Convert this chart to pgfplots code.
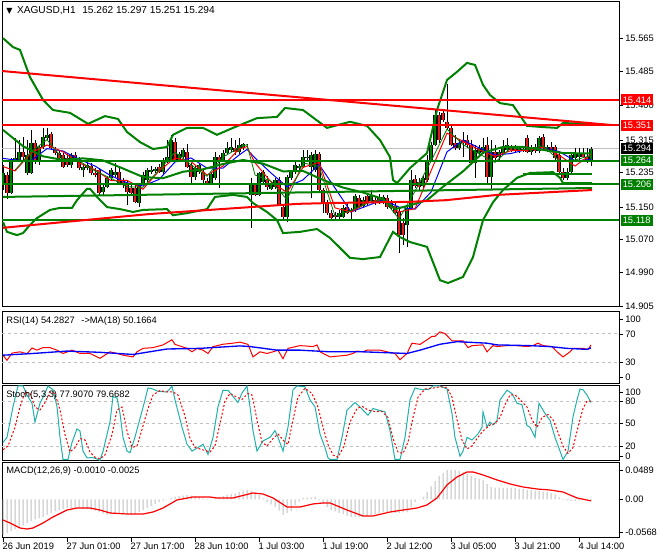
\documentclass[border=0pt]{standalone}
\usepackage{fontspec}
\setmainfont{Liberation Sans}
\newfontfamily\symfont{DejaVu Sans}
\usepackage{pgfplots}
\pgfplotsset{compat=1.18}
\usepackage{pgfplotstable}

\definecolor{mtgreen}{RGB}{0,128,0}
\definecolor{mtred}{RGB}{255,0,0}
\definecolor{bearred}{RGB}{225,30,30}
\definecolor{lvl}{RGB}{192,192,192}
\definecolor{hist}{RGB}{190,190,190}
\definecolor{stochc}{RGB}{32,178,170}
\newcommand\lab{\fontsize{7}{8}\selectfont}
\newcommand\hdr{\fontsize{7.6}{9}\selectfont}

% x = horizontal position of the hourly bar (4 units per bar)
\pgfplotstableread{
x o h l c
3 15.205 15.254 15.192 15.234
7 15.229 15.237 15.170 15.185
11 15.185 15.271 15.182 15.266
15 15.266 15.320 15.261 15.271
19 15.266 15.315 15.261 15.286
23 15.286 15.323 15.266 15.273
27 15.234 15.315 15.229 15.278
31 15.234 15.340 15.232 15.308
35 15.308 15.315 15.256 15.261
39 15.261 15.303 15.254 15.298
43 15.298 15.345 15.293 15.323
47 15.320 15.345 15.315 15.328
51 15.330 15.335 15.291 15.296
55 15.291 15.298 15.278 15.283
59 15.283 15.291 15.266 15.271
63 15.278 15.283 15.246 15.249
67 15.271 15.283 15.249 15.254
71 15.254 15.283 15.246 15.278
75 15.278 15.286 15.261 15.266
79 15.266 15.273 15.241 15.246
83 15.241 15.259 15.224 15.249
87 15.246 15.266 15.241 15.254
91 15.251 15.259 15.229 15.234
95 15.234 15.246 15.224 15.229
99 15.241 15.246 15.180 15.185
103 15.187 15.205 15.180 15.200
107 15.200 15.227 15.197 15.222
111 15.222 15.246 15.217 15.241
115 15.229 15.259 15.224 15.237
119 15.237 15.246 15.205 15.210
123 15.214 15.222 15.197 15.205
127 15.210 15.217 15.155 15.187
131 15.197 15.205 15.177 15.185
135 15.197 15.205 15.160 15.163
139 15.160 15.210 15.150 15.205
143 15.210 15.237 15.205 15.229
147 15.217 15.246 15.212 15.241
151 15.237 15.251 15.232 15.241
155 15.239 15.249 15.234 15.244
159 15.249 15.256 15.234 15.237
163 15.237 15.271 15.232 15.266
167 15.261 15.315 15.259 15.273
171 15.266 15.328 15.261 15.315
175 15.310 15.320 15.261 15.266
179 15.266 15.286 15.261 15.281
183 15.273 15.296 15.268 15.291
187 15.286 15.306 15.246 15.249
191 15.254 15.259 15.205 15.224
195 15.224 15.254 15.217 15.246
199 15.237 15.259 15.232 15.254
203 15.237 15.246 15.207 15.217
207 15.214 15.222 15.207 15.207
211 15.207 15.237 15.205 15.232
215 15.222 15.286 15.217 15.273
219 15.273 15.278 15.197 15.261
223 15.266 15.291 15.261 15.283
227 15.283 15.310 15.278 15.296
231 15.291 15.320 15.286 15.298
235 15.296 15.315 15.278 15.286
239 15.286 15.320 15.281 15.303
243 15.296 15.308 15.291 15.306
247 15.303 15.306 15.298 15.303
251 15.180 15.222 15.099 15.205
255 15.205 15.210 15.177 15.180
259 15.180 15.237 15.177 15.234
263 15.212 15.241 15.207 15.237
267 15.217 15.227 15.192 15.200
271 15.195 15.212 15.192 15.207
275 15.200 15.222 15.195 15.217
279 15.217 15.224 15.155 15.155
283 15.150 15.155 15.118 15.126
287 15.126 15.229 15.113 15.224
291 15.222 15.241 15.217 15.237
295 15.237 15.261 15.232 15.254
299 15.246 15.256 15.241 15.251
303 15.249 15.291 15.246 15.273
307 15.271 15.291 15.266 15.273
311 15.249 15.286 15.172 15.278
315 15.241 15.291 15.237 15.281
319 15.281 15.286 15.187 15.192
323 15.192 15.197 15.135 15.160
327 15.158 15.168 15.131 15.135
331 15.135 15.143 15.118 15.123
335 15.131 15.138 15.121 15.126
339 15.126 15.143 15.121 15.135
343 15.126 15.155 15.123 15.148
347 15.150 15.158 15.133 15.135
351 15.138 15.148 15.118 15.143
355 15.143 15.182 15.138 15.177
359 15.172 15.180 15.148 15.150
363 15.153 15.175 15.148 15.168
367 15.177 15.185 15.155 15.160
371 15.165 15.192 15.160 15.177
375 15.168 15.175 15.155 15.160
379 15.163 15.182 15.158 15.175
383 15.163 15.180 15.158 15.175
387 15.172 15.180 15.145 15.150
391 15.160 15.168 15.143 15.148
395 15.153 15.160 15.131 15.135
399 15.138 15.148 15.037 15.082
403 15.111 15.123 15.057 15.082
407 15.106 15.155 15.052 15.148
411 15.148 15.241 15.143 15.217
415 15.219 15.229 15.197 15.202
419 15.212 15.222 15.192 15.200
423 15.202 15.229 15.197 15.222
427 15.217 15.278 15.212 15.266
431 15.266 15.310 15.261 15.303
435 15.303 15.389 15.301 15.377
439 15.377 15.384 15.308 15.315
443 15.382 15.389 15.360 15.365
447 15.360 15.453 15.340 15.345
451 15.345 15.352 15.301 15.303
455 15.308 15.328 15.291 15.296
459 15.296 15.315 15.291 15.308
463 15.315 15.335 15.273 15.308
467 15.315 15.328 15.296 15.303
471 15.303 15.315 15.254 15.259
475 15.259 15.303 15.222 15.291
479 15.283 15.303 15.278 15.296
483 15.286 15.320 15.281 15.298
487 15.303 15.323 15.205 15.224
491 15.224 15.315 15.192 15.286
495 15.286 15.303 15.266 15.271
499 15.273 15.291 15.266 15.286
503 15.283 15.315 15.278 15.296
507 15.291 15.320 15.286 15.303
511 15.296 15.303 15.286 15.291
515 15.296 15.303 15.286 15.288
519 15.291 15.301 15.283 15.296
523 15.293 15.301 15.286 15.291
527 15.320 15.328 15.283 15.286
531 15.286 15.303 15.278 15.296
535 15.298 15.306 15.283 15.288
539 15.288 15.325 15.283 15.320
543 15.323 15.330 15.291 15.296
547 15.291 15.303 15.286 15.298
551 15.298 15.310 15.286 15.288
555 15.298 15.303 15.266 15.271
559 15.278 15.286 15.229 15.237
563 15.237 15.246 15.217 15.222
567 15.222 15.246 15.217 15.237
571 15.237 15.286 15.232 15.278
575 15.271 15.296 15.266 15.283
579 15.273 15.296 15.266 15.283
583 15.283 15.296 15.271 15.273
587 15.273 15.296 15.259 15.266
591 15.262 15.297 15.251 15.294
}\candles

\pgfplotstableread{
x v
3 -0.0607
7 -0.0573
11 -0.0539
15 -0.0505
19 -0.0471
23 -0.0437
27 -0.0403
31 -0.0368
35 -0.0341
39 -0.0320
43 -0.0300
47 -0.0266
51 -0.0232
55 -0.0205
59 -0.0186
63 -0.0166
67 -0.0147
71 -0.0147
75 -0.0147
79 -0.0147
83 -0.0157
87 -0.0167
91 -0.0177
95 -0.0193
99 -0.0218
103 -0.0242
107 -0.0266
111 -0.0255
115 -0.0243
119 -0.0232
123 -0.0242
127 -0.0252
131 -0.0262
135 -0.0249
139 -0.0215
143 -0.0181
147 -0.0147
151 -0.0113
155 -0.0078
159 -0.0044
163 -0.0020
167 0.0005
171 0.0029
175 0.0046
179 0.0056
183 0.0066
187 0.0075
191 0.0064
195 0.0052
199 0.0041
203 0.0016
207 -0.0010
211 0.0007
215 0.0024
219 0.0041
223 0.0058
227 0.0075
231 0.0089
235 0.0102
239 0.0129
243 0.0150
247 0.0160
251 0.0140
255 0.0119
259 0.0078
263 0.0017
267 -0.0044
271 -0.0085
275 -0.0126
279 -0.0190
283 -0.0266
287 -0.0232
291 -0.0198
295 -0.0103
299 -0.0040
303 0.0024
307 0.0030
311 0.0035
315 0.0041
319 -0.0016
323 -0.0073
327 -0.0130
331 -0.0180
335 -0.0204
339 -0.0228
343 -0.0252
347 -0.0276
351 -0.0300
355 -0.0300
359 -0.0300
363 -0.0290
367 -0.0280
371 -0.0270
375 -0.0256
379 -0.0236
383 -0.0215
387 -0.0220
391 -0.0225
395 -0.0230
399 -0.0228
403 -0.0222
407 -0.0215
411 -0.0130
415 -0.0044
419 0.0005
423 0.0041
427 0.0129
431 0.0221
435 0.0310
439 0.0399
443 0.0450
447 0.0501
451 0.0501
455 0.0501
459 0.0490
463 0.0467
467 0.0433
471 0.0399
475 0.0365
479 0.0348
483 0.0331
487 0.0262
491 0.0208
495 0.0201
499 0.0195
503 0.0194
507 0.0194
511 0.0194
515 0.0190
519 0.0182
523 0.0174
527 0.0166
531 0.0158
535 0.0150
539 0.0142
543 0.0134
547 0.0126
551 0.0106
555 0.0085
559 0.0040
563 -0.0010
567 -0.0017
571 -0.0024
575 -0.0024
579 -0.0017
583 -0.0010
587 -0.0010
591 -0.0010
}\macdhist

\pgfplotsset{
  mt/.style={
    scale only axis, width=462.75pt, xmin=2, xmax=619,
    axis line style={line width=0.75pt},
    xtick=\empty, ytick pos=right, yticklabel pos=right,
    tick align=outside, major tick length=3pt,
    tick style={black, line width=0.6pt},
    yticklabel style={font=\lab, anchor=west, inner sep=0pt, xshift=1.5pt},
    scaled y ticks=false,
    clip mode=individual,
  },
  lvlline/.style={lvl, line width=0.6pt, dash pattern=on 2.25pt off 2.25pt},
  wick/.style={draw=none, mark=none, forget plot,
    error bars/y dir=plus, error bars/y explicit, error bars/error mark=none,
    error bars/error bar style={draw=black, line width=0.75pt, solid}},
  body/.style 2 args={draw=none, mark=none, forget plot,
    error bars/y dir=plus, error bars/y explicit, error bars/error mark=none,
    error bars/error bar style={draw=#1, line width=#2, solid}},
}
\tikzset{
  pbox/.style={anchor=west, font=\lab, text=white, inner xsep=1.5pt,
    inner ysep=0pt, minimum height=8.25pt, fill=#1},
}

\begin{document}
\begin{tikzpicture}
\path[use as bounding box] (0,0) rectangle (495pt,420pt);

% ---------------- price panel ----------------
\begin{axis}[mt, at={(1.5pt,189.75pt)}, anchor=south west, height=228.75pt,
  ymin=14.904, ymax=15.655,
  ytick={14.905,14.990,15.070,15.150,15.235,15.315,15.400,15.485,15.565},
  yticklabels={14.905,14.990,15.070,15.150,15.235,15.315,15.400,15.485,15.565}]

\addplot[lvl, line width=0.6pt] coordinates {(2,15.294)(619,15.294)};

% candles
\addplot[wick] table[x=x, y=l, y error expr=\thisrow{h}-\thisrow{l}] {\candles};
\addplot[body={black}{2.4pt}, restrict expr to domain={\thisrow{c}-\thisrow{o}}{0:1}]
  table[x=x, y=o, y error expr=\thisrow{c}-\thisrow{o}] {\candles};
\addplot[body={mtgreen}{1.0pt}, restrict expr to domain={\thisrow{c}-\thisrow{o}}{0:1}]
  table[x=x, y=o, y error expr=\thisrow{c}-\thisrow{o}] {\candles};
\addplot[body={black}{2.4pt}, restrict expr to domain={\thisrow{c}-\thisrow{o}}{-1:0}]
  table[x=x, y=c, y error expr=\thisrow{o}-\thisrow{c}] {\candles};
\addplot[body={bearred}{1.0pt}, restrict expr to domain={\thisrow{c}-\thisrow{o}}{-1:0}]
  table[x=x, y=c, y error expr=\thisrow{o}-\thisrow{c}] {\candles};

% moving averages
\addplot[blue, line width=0.75pt] coordinates {(3,15.270)(15,15.266)(31,15.264)(47,15.294)(63,15.288)(79,15.268)(95,15.251)(111,15.227)(127,15.210)(143,15.202)(159,15.218)(175,15.261)(191,15.271)(207,15.246)(223,15.246)(239,15.278)(247,15.292)(255,15.271)(271,15.234)(287,15.200)(303,15.217)(319,15.255)(335,15.197)(351,15.138)(367,15.153)(383,15.168)(399,15.150)(415,15.145)(431,15.187)(447,15.286)(463,15.315)(479,15.296)(495,15.278)(511,15.282)(527,15.292)(543,15.296)(559,15.287)(575,15.264)(591,15.267)};
\addplot[mtred, line width=0.75pt] coordinates {(3,15.250)(15,15.239)(31,15.283)(47,15.303)(63,15.286)(79,15.259)(95,15.242)(111,15.215)(127,15.216)(143,15.194)(159,15.239)(175,15.271)(191,15.262)(207,15.229)(223,15.251)(239,15.293)(247,15.299)(255,15.259)(271,15.212)(287,15.186)(303,15.248)(319,15.260)(335,15.148)(351,15.138)(367,15.160)(383,15.170)(399,15.138)(415,15.146)(431,15.239)(447,15.332)(463,15.312)(479,15.291)(495,15.275)(511,15.289)(527,15.290)(543,15.297)(559,15.278)(575,15.251)(591,15.280)};
\addplot[mtgreen, line width=0.6pt] coordinates {(15,15.241)(31,15.286)(47,15.316)(63,15.268)(79,15.264)(95,15.239)(111,15.221)(127,15.200)(143,15.199)(159,15.241)(175,15.285)(191,15.254)(207,15.226)(223,15.273)(239,15.296)(247,15.304)(255,15.229)(271,15.214)(287,15.168)(303,15.259)(319,15.250)(335,15.128)(351,15.142)(367,15.159)(383,15.170)(399,15.121)(415,15.189)(431,15.263)(447,15.342)(463,15.304)(479,15.281)(495,15.260)(511,15.296)(527,15.291)(543,15.301)(559,15.265)(575,15.266)(591,15.277)};

% Bollinger bands
\addplot[mtgreen, line width=1.5pt] coordinates {(3,15.566)(13,15.544)(20,15.537)(30,15.470)(43,15.414)(53,15.389)(70,15.382)(88,15.355)(105,15.374)(118,15.367)(127,15.335)(140,15.310)(153,15.293)(167,15.298)(173,15.328)(187,15.345)(203,15.345)(217,15.328)(233,15.345)(257,15.369)(277,15.372)(285,15.394)(303,15.389)(327,15.345)(350,15.360)(367,15.350)(380,15.315)(390,15.273)(393,15.217)(397,15.209)(410,15.246)(427,15.283)(437,15.389)(447,15.463)(457,15.483)(467,15.505)(475,15.500)(483,15.451)(490,15.426)(500,15.406)(513,15.401)(527,15.350)(543,15.347)(557,15.345)(563,15.357)(583,15.355)(592,15.355)};
\addplot[mtgreen, line width=1.5pt] coordinates {(3,15.113)(7,15.089)(17,15.081)(23,15.086)(30,15.106)(37,15.123)(50,15.143)(60,15.148)(72,15.148)(77,15.167)(87,15.195)(90,15.195)(97,15.175)(107,15.150)(120,15.145)(133,15.138)(143,15.143)(167,15.145)(173,15.130)(187,15.135)(207,15.145)(215,15.175)(233,15.180)(247,15.175)(253,15.160)(267,15.138)(277,15.118)(283,15.086)(300,15.089)(317,15.096)(330,15.074)(350,15.025)(363,15.022)(380,15.027)(393,15.089)(400,15.076)(410,15.064)(427,15.052)(440,14.970)(448,14.963)(463,14.978)(473,15.027)(483,15.118)(493,15.162)(503,15.192)(517,15.222)(530,15.234)(553,15.236)(560,15.222)(563,15.209)(592,15.209)};
\addplot[mtgreen, line width=1.5pt] coordinates {(3,15.340)(23,15.300)(43,15.275)(63,15.266)(83,15.270)(103,15.265)(123,15.245)(143,15.224)(163,15.221)(183,15.237)(203,15.243)(223,15.256)(243,15.266)(263,15.257)(283,15.238)(303,15.239)(323,15.217)(343,15.198)(363,15.186)(383,15.170)(395,15.145)(411,15.155)(427,15.167)(443,15.200)(463,15.238)(483,15.284)(503,15.298)(523,15.298)(543,15.291)(563,15.283)(591,15.282)};

% levels and trend lines
\addplot[mtgreen, line width=1.5pt] coordinates {(2,15.264)(619,15.264)};
\addplot[mtgreen, line width=1.5pt] coordinates {(2,15.206)(619,15.206)};
\addplot[mtgreen, line width=1.5pt] coordinates {(2,15.118)(619,15.118)};
\addplot[mtgreen, line width=1.5pt] coordinates {(3,15.175)(592,15.197)};
\addplot[mtgreen, line width=1.5pt] coordinates {(523,15.231)(592,15.231)};
\addplot[mtred, line width=1.5pt] coordinates {(2,15.414)(619,15.414)};
\addplot[mtred, line width=1.5pt] coordinates {(2,15.351)(619,15.351)};
\addplot[mtred, line width=1.5pt] coordinates {(2,15.485)(612,15.352)};
\addplot[mtred, line width=1.5pt] coordinates {(3,15.099)(63,15.113)(150,15.133)(298,15.158)(330,15.160)(410,15.163)(446,15.167)(497,15.180)(592,15.192)};

\node[anchor=base west, inner sep=0pt, font=\hdr] at (axis cs:6,15.626)
  {{\symfont\fontsize{6}{6}\selectfont ▼}\hspace{3.5pt}XAGUSD,H1\hspace{5pt}15.262 15.297 15.251 15.294};
\node[pbox=mtred] at (axis cs:620.5,15.414) {15.414};
\node[pbox=mtred] at (axis cs:620.5,15.351) {15.351};
\node[pbox=black] at (axis cs:620.5,15.294) {15.294};
\node[pbox=mtgreen] at (axis cs:620.5,15.264) {15.264};
\node[pbox=mtgreen] at (axis cs:620.5,15.206) {15.206};
\node[pbox=mtgreen] at (axis cs:620.5,15.118) {15.118};
\end{axis}

% ---------------- RSI ----------------
\begin{axis}[mt, at={(1.5pt,132pt)}, anchor=south west, height=54pt,
  ymin=0, ymax=100, ytick={9.7,30.6,69.4,90.3}, yticklabels={0,30,70,100}]
\addplot[lvlline] coordinates {(2,30)(619,30)};
\addplot[lvlline] coordinates {(2,70)(619,70)};
\addplot[mtred, line width=0.75pt] coordinates {(3,40)(7,32.9)(12,42.9)(20,44.7)(27,42)(32,50)(37,47)(43,50.5)(50,50.5)(57,47)(63,42.4)(72,47)(80,42.4)(90,42.4)(100,35.7)(110,44.7)(117,42.4)(123,40)(133,37.6)(137,44.7)(143,49.5)(153,50.5)(163,54.3)(172,61.4)(175,55)(187,49.5)(192,44.7)(197,49.5)(203,47)(208,42.4)(213,51.9)(223,55.2)(233,56.7)(240,58.1)(248,55)(253,37.6)(260,44.7)(267,42.4)(273,44.7)(278,47)(283,35.2)(288,49.5)(300,53.3)(313,52)(317,54.3)(320,44.7)(330,37.6)(347,40)(353,42.4)(357,45.7)(363,44.7)(367,47)(380,47)(387,44.7)(395,42.4)(400,33.8)(407,42.4)(412,56.7)(420,55)(427,61.4)(432,66.2)(435,66.2)(440,72.4)(445,70)(452,60)(463,60)(468,50.5)(472,53.3)(483,54.3)(487,44.7)(493,53.3)(497,52)(507,53.3)(517,53.3)(527,52)(533,53.3)(538,56.7)(543,53.3)(552,52)(557,44.7)(563,37.6)(570,44.7)(573,49.5)(583,49.5)(588,48)(591,54.3)};
\addplot[blue, line width=1pt] coordinates {(3,40)(33,42.4)(67,45.7)(100,44)(133,41)(167,48.6)(200,49.5)(240,52.9)(250,52)(277,47)(300,47)(330,44.7)(363,44.7)(407,42.4)(420,47)(440,55.2)(457,58.8)(487,56.7)(497,54.3)(530,53.3)(550,51.9)(567,49.5)(587,48.1)(591,50.2)};
\node[anchor=base west, inner sep=0pt, font=\lab] at (axis cs:6,84.7) {RSI(14) 54.2827\hspace{5pt}->MA(18) 50.1664};
\end{axis}

% ---------------- Stochastic ----------------
\begin{axis}[mt, at={(1.5pt,74.25pt)}, anchor=south west, height=56.25pt,
  ymin=0, ymax=100, ytick={6.7,20,50,80,92}, yticklabels={0,20,50,80,100}]
\addplot[lvlline] coordinates {(2,20)(619,20)};
\addplot[lvlline] coordinates {(2,50)(619,50)};
\addplot[lvlline] coordinates {(2,80)(619,80)};
\addplot[stochc, line width=0.75pt] coordinates {(3,24.7)(7,31.5)(13,72.4)(18,100)(23,100)(27,88)(32,77)(35,52)(40,77)(45,90.6)(48,100)(53,95)(57,72.4)(60,31.5)(63,2)(68,2)(72,24.7)(77,42.8)(80,40)(83,13.2)(87,4.2)(93,4.5)(100,1)(103,13)(110,52)(113,86)(117,84)(120,63.3)(123,31.5)(127,13.2)(130,11)(135,32)(140,56.5)(145,81.5)(148,97.4)(153,96)(158,92.9)(167,92)(172,99.7)(175,81.5)(182,45.2)(187,22.4)(192,13.2)(198,17.9)(203,22.4)(208,8.7)(213,31.5)(218,72.4)(223,94.3)(228,94.3)(233,86)(238,78)(242,90.6)(247,100)(250,72.4)(253,40.5)(257,13.2)(263,26.9)(270,31.5)(275,40.5)(278,31.5)(283,13.2)(288,45.2)(293,95)(297,100)(305,99)(310,81.5)(315,72.4)(320,36)(325,17.9)(328,4.2)(330,2)(337,2)(342,31.5)(347,67.8)(355,78)(360,72)(368,61)(373,70)(378,68)(385,65.6)(390,40.5)(395,2)(400,2)(405,31.5)(410,81.5)(415,97.4)(422,95)(428,95)(433,100)(440,100)(447,96)(452,63.3)(455,31.5)(460,6.4)(463,13)(467,31.5)(472,28)(478,36)(482,45)(483,65.6)(487,45)(490,52)(493,48)(497,54)(500,81.5)(507,94.3)(512,90)(517,77)(522,75)(527,47.3)(530,45)(535,31.5)(539,77)(545,63.3)(550,54.2)(555,31.5)(560,13.2)(563,2)(568,13)(573,58.8)(577,81.5)(580,96)(583,95)(587,88)(591,77.9)};
\addplot[mtred, line width=0.75pt, dash pattern=on 1.5pt off 1.5pt] coordinates {(3,15)(8,20)(15,45)(20,72)(25,92)(30,90)(35,72)(40,68)(45,78)(50,92)(55,90)(60,68)(65,35)(70,12)(75,18)(80,30)(85,28)(90,12)(95,5)(100,3)(105,8)(112,35)(117,68)(122,72)(127,40)(132,18)(137,20)(142,42)(148,70)(153,88)(160,94)(167,92)(173,92)(178,88)(185,60)(190,30)(195,18)(200,16)(205,14)(210,12)(215,20)(220,50)(225,80)(230,90)(237,85)(242,82)(248,90)(252,88)(257,55)(262,25)(267,20)(273,30)(278,36)(283,28)(288,22)(293,55)(298,85)(305,97)(312,90)(318,72)(323,45)(328,22)(333,8)(338,5)(344,20)(350,52)(357,70)(362,73)(368,68)(375,66)(382,66)(388,58)(393,30)(398,12)(403,10)(408,25)(413,58)(418,85)(425,96)(432,97)(440,99)(447,98)(452,85)(457,55)(462,28)(467,16)(472,20)(477,30)(483,40)(490,48)(495,50)(500,58)(505,75)(510,88)(515,88)(520,82)(527,72)(532,55)(537,45)(542,58)(548,62)(553,55)(558,38)(563,20)(568,10)(573,18)(578,45)(583,70)(587,80)(591,79.7)};
\node[anchor=base west, inner sep=0pt, font=\lab] at (axis cs:6,84) {Stoch(5,3,3) 77.9070 79.6682};
\end{axis}

% ---------------- MACD ----------------
\begin{axis}[mt, at={(1.5pt,16.5pt)}, anchor=south west, height=56.25pt,
  ymin=-0.0658, ymax=0.0620, ytick={-0.0568,0,0.0489}, yticklabels={-0.0568,0.00,0.0489},
  xtick={3,67,131,195,259,323,387,451,515,579}, xtick pos=bottom,
  xticklabels={26 Jun 2019,27 Jun 01:00,27 Jun 17:00,28 Jun 10:00,1 Jul 03:00,1 Jul 19:00,2 Jul 12:00,3 Jul 05:00,3 Jul 21:00,4 Jul 14:00},
  xticklabel style={font=\lab, anchor=north west, inner sep=0pt, xshift=-0.5pt, yshift=-0.5pt}]
\addplot[ybar, bar width=0.75pt, fill=hist, draw=none] table[x=x, y=v] {\macdhist};
\addplot[mtred, line width=0.9pt] coordinates {(3,-0.0351)(10,-0.0402)(20,-0.0488)(27,-0.0505)(33,-0.0488)(43,-0.0402)(53,-0.0300)(67,-0.0181)(77,-0.0147)(90,-0.0147)(100,-0.0181)(110,-0.0232)(127,-0.0249)(143,-0.0249)(153,-0.0215)(163,-0.0147)(177,-0.0010)(193,0.0041)(210,0.0041)(217,0.0024)(233,0.0024)(253,0.0109)(263,0.0092)(273,0.0024)(287,-0.0130)(300,-0.0130)(313,-0.0078)(323,-0.0061)(330,-0.0061)(347,-0.0181)(363,-0.0283)(373,-0.0283)(390,-0.0215)(403,-0.0181)(417,-0.0147)(427,-0.0095)(437,0.0024)(447,0.0246)(457,0.0382)(467,0.0467)(473,0.0467)(483,0.0416)(497,0.0331)(510,0.0263)(523,0.0211)(537,0.0177)(550,0.0160)(563,0.0126)(577,0.0024)(591,-0.0025)};
\node[anchor=base west, inner sep=0pt, font=\lab] at (axis cs:6,0.0433) {MACD(12,26,9) -0.0010 -0.0025};
\end{axis}
\end{tikzpicture}
\end{document}
